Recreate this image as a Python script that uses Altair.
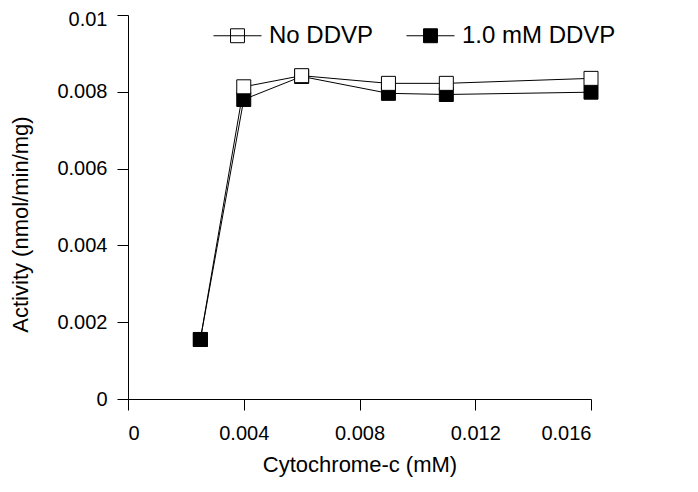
import altair as alt
import pandas as pd

conc = [0.0025, 0.004, 0.006, 0.009, 0.011, 0.016]
no_ddvp = [0.00155, 0.00813, 0.00842, 0.00822, 0.00822, 0.00835]
ddvp = [0.00155, 0.00780, 0.00840, 0.00796, 0.00793, 0.00799]
series = ["No DDVP", "1.0 mM DDVP"]

rows = []
for i, x in enumerate(conc):
    a = {"conc": x, "act": no_ddvp[i], "series": series[0]}
    b = {"conc": x, "act": ddvp[i], "series": series[1]}
    # drawing order of the markers
    rows += [a, b] if i == 0 else [b, a]
df = pd.DataFrame(rows)

FONT = "Liberation Sans"

xenc = alt.X("conc:Q", scale=alt.Scale(domain=[0, 0.016], nice=False),
             axis=alt.Axis(values=[0, 0.004, 0.008, 0.012, 0.016], format="~g",
                           title="Cytochrome-c (mM)", titlePadding=11))
yenc = alt.Y("act:Q", scale=alt.Scale(domain=[0, 0.01], nice=False),
             axis=alt.Axis(values=[0, 0.002, 0.004, 0.006, 0.008, 0.01], format="~g",
                           title="Activity (nmol/min/mg)", titlePadding=24,
                           titleY=209,
                           labelOffset={"condition": {"test": "datum.value >= 0.01", "value": 4},
                                        "value": 0}))

lines = alt.Chart(df).mark_line(color="black", strokeWidth=1).encode(
    x=xenc, y=yenc, detail="series:N")

sym = "M-1,0L1,0M-0.29,-0.29L0.29,-0.29L0.29,0.29L-0.29,0.29Z"
points = alt.Chart(df).mark_point(shape="square", size=196, filled=True,
                                  stroke="black", strokeWidth=1, opacity=1).encode(
    x=xenc, y=yenc,
    fill=alt.Fill("series:N", scale=alt.Scale(domain=series, range=["white", "black"]),
                  legend=alt.Legend(title=None, orient="none", direction="horizontal",
                                    legendX=85, legendY=-4, symbolType=sym,
                                    symbolSize=2304, symbolStrokeColor="black",
                                    symbolStrokeWidth=1, labelFontSize=24,
                                    labelFont=FONT, labelColor="black",
                                    labelOffset=7, columnPadding=30, labelLimit=300)),
)

chart = alt.layer(lines, points).properties(
    width=463, height=384,
    autosize=alt.AutoSizeParams(type="none"),
    padding={"left": 120, "top": 7, "right": 99, "bottom": 85},
).configure_view(stroke=None).configure_axis(
    grid=False, domainColor="black", tickColor="black", tickSize=11,
    labelFont=FONT, labelFontSize=20, labelColor="black", labelPadding=10,
    titleFont=FONT, titleFontSize=22, titleFontWeight="normal", titleColor="black",
).configure_axisX(labelPadding=13)

chart.save("out.html", embed_options={"renderer": "svg", "actions": False})
